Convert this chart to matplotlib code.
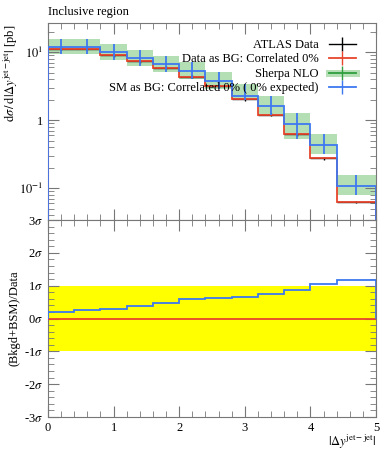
import numpy as np, matplotlib; matplotlib.use('Agg')
import matplotlib.pyplot as plt
from matplotlib.lines import Line2D
from matplotlib.ticker import MultipleLocator, LogLocator, NullFormatter

plt.rcParams.update({'font.family':['Liberation Serif','DejaVu Serif'],'mathtext.fontset':'stix','font.size':9})

# bins in |dy jet-jet|
edges=[0.0,0.4,0.8,1.2,1.6,2.0,2.4,2.8,3.2,3.6,4.0,4.4,5.0]
data=[11.3,11.3,9.0,7.4,5.9,4.4,3.2,2.04,1.21,0.62,0.279,0.063]          # ATLAS data / data-as-BG
sm=[12.0,12.0,10.0,8.2,6.8,5.3,3.8,2.28,1.6,0.89,0.44,0.108]            # SM as BG / Sherpa NLO
sm_hi=[15.5,15.5,13.4,10.7,8.7,7.1,5.1,3.46,2.25,1.26,0.64,0.158]
sm_lo=[9.6,9.6,7.6,6.4,5.1,4.1,2.9,1.97,1.19,0.54,0.32,0.079]
pull_sm=[0.20,0.25,0.30,0.38,0.47,0.59,0.61,0.64,0.76,0.87,1.04,1.18]   # (Bkgd+BSM)/Data in sigma
pull_data=[0.0]*12

RED='#e8452c'; BLUE='#3d78f0'; GREEN='#b4dfb4'; DGREEN='#2e9e3e'; GREY='#777777'
e=np.array(edges); xc=(e[:-1]+e[1:])/2; xw=(e[1:]-e[:-1])/2
d=np.array(data); s=np.array(sm)

fig=plt.figure(figsize=(3.89,4.5),dpi=100)
ax=fig.add_axes([0.1234,0.5111,0.8432,0.4378])
rx=fig.add_axes([0.1234,0.0733,0.8432,0.4378])

ax.stairs(sm_hi,e,baseline=sm_lo,fill=True,color=GREEN,lw=0,zorder=1)
ax.errorbar(xc,d,xerr=xw,yerr=0.05*d,fmt='none',ecolor='k',elinewidth=1,zorder=2)
ax.stairs(d,e,color=RED,lw=1.3,zorder=3)
ax.stairs(s,e,color=BLUE,lw=1.3,zorder=4)
ax.errorbar(xc,s,yerr=[s-np.array(sm_lo),np.array(sm_hi)-s],fmt='none',ecolor=BLUE,elinewidth=1.3,zorder=4)
ax.set_yscale('log'); ax.set_xlim(0,5); ax.set_ylim(0.0342,27)
ax.set_yticks([0.1,1,10]); ax.set_yticklabels([r'$10^{-1}$','1',r'$10^{1}$'])
ax.yaxis.set_minor_locator(LogLocator(subs=np.arange(2,10))); ax.yaxis.set_minor_formatter(NullFormatter())
ax.tick_params(labelbottom=False)
ax.set_ylabel(r'$\mathrm{d}\sigma\,/\,\mathrm{d}|\Delta y^{\mathrm{jet-jet}}|$ [pb]',fontsize=9,ha='right')
ax.yaxis.set_label_coords(-0.085,0.99)
ax.set_title('Inclusive region',loc='left',fontsize=9,pad=6)

hs=[Line2D([],[],color='k',marker='|',ms=10,lw=1),
    Line2D([],[],color=RED,marker='|',ms=10,lw=1.3),
    (Line2D([],[],color=GREEN,lw=5),Line2D([],[],color=DGREEN,marker='|',ms=10,lw=1.3)),
    Line2D([],[],color=BLUE,marker='|',ms=10,lw=1.3)]
ls=['ATLAS Data','Data as BG: Correlated 0%','Sherpa NLO','SM as BG: Correlated 0% ( 0% expected)']
ax.legend(hs,ls,loc='upper right',frameon=False,markerfirst=False,fontsize=9,handlelength=2.2,
          labelspacing=0.2,borderaxespad=0.4,bbox_to_anchor=(0.97,0.97))

rx.axhspan(-1,1,color='#ffff00',lw=0,zorder=1)
rx.stairs(pull_data,e,color=RED,lw=1.3,zorder=3)
rx.stairs(pull_sm,e,color=BLUE,lw=1.3,zorder=4)
rx.set_xlim(0,5); rx.set_ylim(-3,3)
rx.set_yticks(range(-3,4)); rx.set_yticklabels([f'{i}$\\sigma$' for i in range(-3,4)])
rx.yaxis.set_minor_locator(MultipleLocator(0.2))
rx.set_ylabel('(Bkgd+BSM)/Data',fontsize=9)
rx.yaxis.set_label_coords(-0.085,0.5)
rx.set_xlabel(r'$|\Delta y^{\mathrm{jet-jet}}|$',loc='right',fontsize=9,labelpad=-1)

for a in (ax,rx):
    a.xaxis.set_major_locator(MultipleLocator(1)); a.xaxis.set_minor_locator(MultipleLocator(0.2))
    a.tick_params(which='both',direction='in',top=True,right=True,color=GREY)
    a.tick_params(which='major',length=8); a.tick_params(which='minor',length=4)
    for sp in a.spines.values(): sp.set_color(GREY)
fig.savefig('out.png',dpi=100)
